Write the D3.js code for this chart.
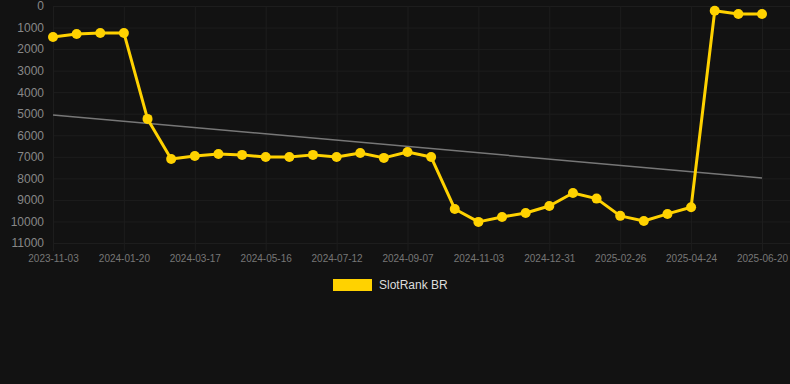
<!DOCTYPE html>
<html>
<head>
<meta charset="utf-8">
<script src="https://cdn.jsdelivr.net/npm/d3@7"></script>
<style>
  html, body { margin: 0; padding: 0; background: #121212; }
  svg { display: block; }
</style>
</head>
<body>
<svg id="chart" width="790" height="384"></svg>
<script>
// categories (one per snapshot), only every 3rd one gets a label
var dates = [
  "2023-11-03", "2023-11-29", "2023-12-25", "2024-01-20", "2024-02-08", "2024-02-27",
  "2024-03-17", "2024-04-06", "2024-04-26", "2024-05-16", "2024-06-04", "2024-06-23",
  "2024-07-12", "2024-07-31", "2024-08-19", "2024-09-07", "2024-09-26", "2024-10-15",
  "2024-11-03", "2024-11-22", "2024-12-12", "2024-12-31", "2025-01-19", "2025-02-07",
  "2025-02-26", "2025-03-17", "2025-04-05", "2025-04-24", "2025-05-13", "2025-06-01",
  "2025-06-20"
];
var ranks = [
  1440, 1300, 1250, 1250, 5240, 7100,
  6960, 6870, 6910, 7010, 7010, 6910,
  7010, 6820, 7050, 6780, 7010, 9420,
  10020, 9790, 9610, 9280, 8680, 8940,
  9740, 9980, 9650, 9340, 220, 370,
  370
];
var trend = [5060, 7980];   // value at first and last category
var yTicks = [0, 1000, 2000, 3000, 4000, 5000, 6000, 7000, 8000, 9000, 10000, 11000];
var seriesName = "SlotRank BR";

var svg = d3.select("#chart");
var gold = "#ffd200";
var gridCol = "#1d1d1d";

var x = d3.scalePoint().domain(dates).range([53, 762]);
var y = d3.scaleLinear().domain([0, 11000]).range([6, 243]);

var labeled = dates.filter(function (d, i) { return i % 3 === 0; });

// horizontal grid
svg.append("g")
  .selectAll("line")
  .data(yTicks).enter()
  .append("line")
  .attr("x1", 53).attr("x2", 790)
  .attr("y1", function (d) { return y(d) + 0.5; })
  .attr("y2", function (d) { return y(d) + 0.5; })
  .attr("stroke", gridCol).attr("stroke-width", 1);

// vertical grid + little tick below
svg.append("g")
  .selectAll("line")
  .data(labeled).enter()
  .append("line")
  .attr("x1", function (d) { return x(d) + 0.5; })
  .attr("x2", function (d) { return x(d) + 0.5; })
  .attr("y1", 6).attr("y2", 251)
  .attr("stroke", gridCol).attr("stroke-width", 1);

// y axis
var yAxis = d3.axisLeft(y).tickValues(yTicks).tickSize(0).tickPadding(0)
  .tickFormat(function (d) { return d; });
svg.append("g")
  .attr("transform", "translate(44,0)")
  .call(yAxis)
  .call(function (g) { g.select(".domain").remove(); })
  .selectAll("text")
  .attr("fill", "#888")
  .attr("font-family", "Liberation Sans, Arial, sans-serif")
  .attr("font-size", "12px");

// x axis
var xAxis = d3.axisBottom(x).tickValues(labeled).tickSize(0).tickPadding(0);
svg.append("g")
  .attr("transform", "translate(0,255)")
  .call(xAxis)
  .call(function (g) { g.select(".domain").remove(); })
  .selectAll("text")
  .attr("fill", "#777")
  .attr("font-family", "Liberation Sans, Arial, sans-serif")
  .attr("font-size", "10px");

// trend line
svg.append("line")
  .attr("x1", x(dates[0])).attr("y1", y(trend[0]))
  .attr("x2", x(dates[dates.length - 1])).attr("y2", y(trend[1]))
  .attr("stroke", "#777").attr("stroke-width", 1.5);

// series
var pts = dates.map(function (d, i) { return [d, ranks[i]]; });
var line = d3.line()
  .x(function (d) { return x(d[0]); })
  .y(function (d) { return y(d[1]); });

svg.append("path")
  .datum(pts)
  .attr("d", line)
  .attr("fill", "none")
  .attr("stroke", gold)
  .attr("stroke-width", 3)
  .attr("stroke-linejoin", "round");

svg.append("g")
  .selectAll("circle")
  .data(pts).enter()
  .append("circle")
  .attr("cx", function (d) { return x(d[0]); })
  .attr("cy", function (d) { return y(d[1]); })
  .attr("r", 5)
  .attr("fill", gold);

// legend
var leg = svg.append("g").attr("transform", "translate(333,279)");
leg.append("rect")
  .attr("width", 39).attr("height", 12)
  .attr("fill", gold);
leg.append("text")
  .attr("x", 46).attr("y", 10)
  .attr("fill", "#ddd")
  .attr("font-family", "Liberation Sans, Arial, sans-serif")
  .attr("font-size", "12px")
  .text(seriesName);
</script>
</body>
</html>
